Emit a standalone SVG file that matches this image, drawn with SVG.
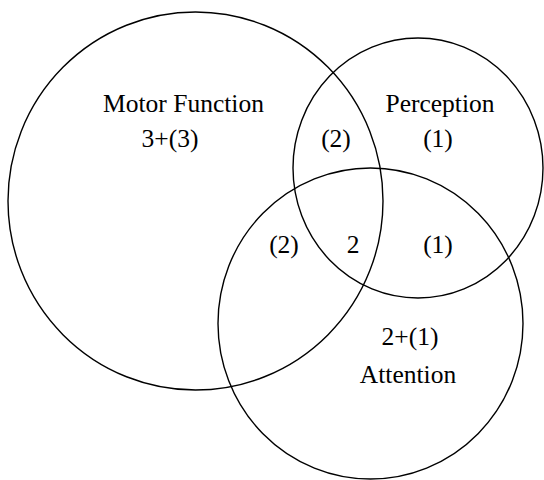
<svg xmlns="http://www.w3.org/2000/svg" width="544" height="480" viewBox="0 0 544 480">
<style>
.c{fill:none;stroke:#000;stroke-width:1.4}
.t{font-family:"Liberation Serif","Times New Roman",serif;font-size:25.5px;fill:#000;text-anchor:middle}
</style>
<rect width="544" height="480" fill="#fff"/>
<g id="motor">
<ellipse class="c" cx="195.5" cy="201" rx="187.5" ry="189"/>
<text class="t" x="183.5" y="112">Motor Function</text>
<text class="t" x="170" y="147">3+(3)</text>
</g>
<g id="perception">
<ellipse class="c" cx="418" cy="168" rx="125" ry="130"/>
<text class="t" x="440" y="112">Perception</text>
<text class="t" x="438" y="147">(1)</text>
</g>
<g id="attention">
<ellipse class="c" cx="370.5" cy="323.5" rx="152.5" ry="155.5"/>
<text class="t" x="410" y="345">2+(1)</text>
<text class="t" x="408" y="383">Attention</text>
</g>
<g id="overlaps">
<text class="t" x="336" y="147">(2)</text>
<text class="t" x="284" y="253">(2)</text>
<text class="t" x="353" y="253">2</text>
<text class="t" x="438" y="253">(1)</text>
</g>
</svg>
